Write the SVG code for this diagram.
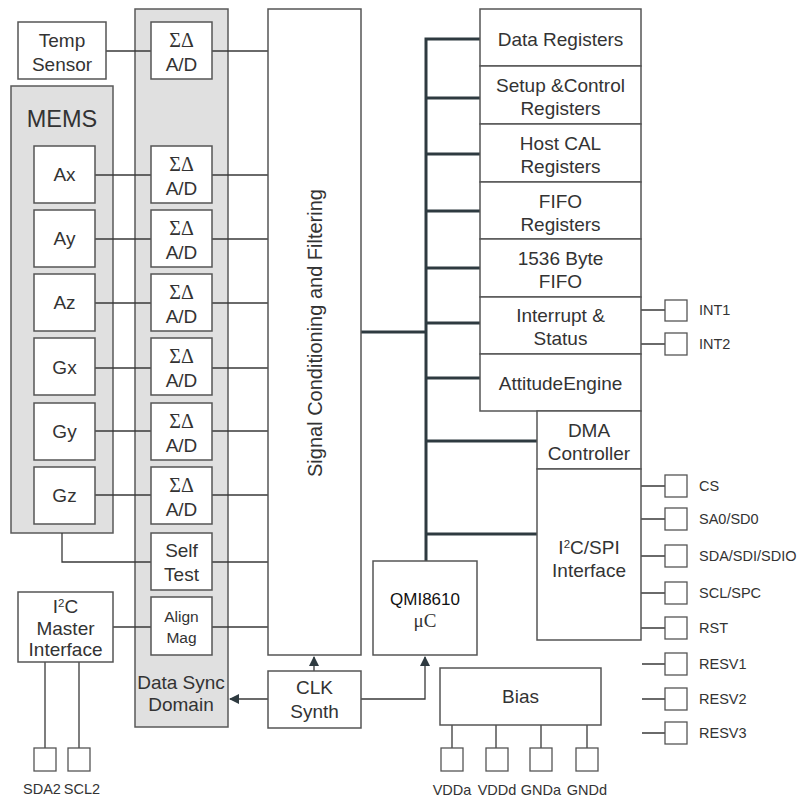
<svg xmlns="http://www.w3.org/2000/svg" width="800" height="798" viewBox="0 0 800 798">
<style>
.box{fill:#fff;stroke:#555;stroke-width:1.5}
.gray{fill:#e0e0e0;stroke:#5a5a5a;stroke-width:1.5}
.pin{fill:#fff;stroke:#555;stroke-width:1.3}
.ln{stroke:#3a3a3a;stroke-width:1.3;fill:none}
.bus{stroke:#2e3a40;stroke-width:3;fill:none}
text{font-family:"Liberation Sans",Arial,sans-serif;fill:#333;text-anchor:middle}
.t{font-size:19px}
.s{font-size:15.5px}
.sd{font-family:"Liberation Serif","Times New Roman",serif;font-size:20px}
.p{font-size:14.5px;text-anchor:start}
.pc{font-size:14.5px}
</style>
<defs>
<marker id="arr" markerWidth="10" markerHeight="10" refX="9" refY="5" orient="auto" markerUnits="userSpaceOnUse">
<path d="M0,0 L10,5 L0,10 z" fill="#2e3a40"/>
</marker>
</defs>

<g id="data-sync-domain">
<rect class="gray" x="135" y="9" width="93" height="718"/>
<text class="t" x="181" y="689">Data Sync</text>
<text class="t" x="181" y="711">Domain</text>
</g>
<g id="mems">
<rect class="gray" x="11" y="86" width="102" height="447"/>
<text x="62" y="127" style="font-size:23.5px">MEMS</text>
</g>

<g id="connectors">
<path class="ln" d="M106,51H151 M95,175H151 M95,239H151 M95,303H151 M95,368H151 M95,431H151 M95,495H151"/>
<path class="ln" d="M62,533V562H151"/>
<path class="ln" d="M113,627H151"/>
<path class="ln" d="M212,51H268 M212,175H268 M212,239H268 M212,303H268 M212,368H268 M212,431H268 M212,495H268 M212,562H268 M212,627H268"/>
<path class="ln" d="M45,662V748 M79,662V748"/>
<path class="ln" d="M314,671V657" marker-end="url(#arr)"/>
<path class="ln" d="M268,699H230" marker-end="url(#arr)"/>
<path class="ln" d="M361,699H425V657" marker-end="url(#arr)"/>
<path class="bus" d="M426,561V39H480 M426,98H480 M426,154H480 M426,211H480 M426,268H480 M426,323H480 M426,378H480 M426,441H537 M426,534H537 M361,332H426"/>
<path class="ln" d="M641,310H665 M641,344H665 M641,486H665 M641,519H665 M641,556H665 M641,593H665 M641,628H665 M642,664H665 M642,699H665 M642,733H665"/>
<path class="ln" d="M452,725V748 M496,725V748 M541,725V748 M587,725V748"/>
</g>

<g id="temp-sensor"><rect class="box" x="18" y="22" width="88" height="57"/><text class="t" x="62" y="47">Temp</text><text class="t" x="62" y="71">Sensor</text></g>

<g id="ax"><rect class="box" x="34" y="146" width="61" height="57"/><text class="t" x="64.5" y="181">Ax</text></g>
<g id="ay"><rect class="box" x="34" y="210" width="61" height="57"/><text class="t" x="64.5" y="245">Ay</text></g>
<g id="az"><rect class="box" x="34" y="274" width="61" height="57"/><text class="t" x="64.5" y="309">Az</text></g>
<g id="gx"><rect class="box" x="34" y="338" width="61" height="57"/><text class="t" x="64.5" y="374">Gx</text></g>
<g id="gy"><rect class="box" x="34" y="403" width="61" height="57"/><text class="t" x="64.5" y="438">Gy</text></g>
<g id="gz"><rect class="box" x="34" y="467" width="61" height="57"/><text class="t" x="64.5" y="502">Gz</text></g>

<g id="adc-temp"><rect class="box" x="151" y="22" width="61" height="57"/><text class="sd" x="181.5" y="47">ΣΔ</text><text class="t" x="181.5" y="71">A/D</text></g>
<g id="adc-ax"><rect class="box" x="151" y="146" width="61" height="57"/><text class="sd" x="181.5" y="171">ΣΔ</text><text class="t" x="181.5" y="195">A/D</text></g>
<g id="adc-ay"><rect class="box" x="151" y="210" width="61" height="57"/><text class="sd" x="181.5" y="235">ΣΔ</text><text class="t" x="181.5" y="259">A/D</text></g>
<g id="adc-az"><rect class="box" x="151" y="274" width="61" height="57"/><text class="sd" x="181.5" y="299">ΣΔ</text><text class="t" x="181.5" y="323">A/D</text></g>
<g id="adc-gx"><rect class="box" x="151" y="338" width="61" height="57"/><text class="sd" x="181.5" y="363">ΣΔ</text><text class="t" x="181.5" y="387">A/D</text></g>
<g id="adc-gy"><rect class="box" x="151" y="403" width="61" height="57"/><text class="sd" x="181.5" y="428">ΣΔ</text><text class="t" x="181.5" y="452">A/D</text></g>
<g id="adc-gz"><rect class="box" x="151" y="467" width="61" height="57"/><text class="sd" x="181.5" y="492">ΣΔ</text><text class="t" x="181.5" y="516">A/D</text></g>
<g id="self-test"><rect class="box" x="151" y="533" width="61" height="57"/><text class="t" x="181.5" y="557">Self</text><text class="t" x="181.5" y="581">Test</text></g>
<g id="align-mag"><rect class="box" x="151" y="597" width="61" height="58"/><text class="s" x="181.5" y="622">Align</text><text class="s" x="181.5" y="643">Mag</text></g>

<g id="i2c-master"><rect class="box" x="18" y="592" width="95" height="70"/>
<text class="t" x="65.5" y="613">I<tspan font-size="11.5" dy="-6">2</tspan><tspan dy="6">C</tspan></text>
<text class="t" x="65.5" y="635">Master</text><text class="t" x="65.5" y="656">Interface</text></g>

<g id="pin-sda2"><rect class="pin" x="34" y="748" width="22" height="23"/><text class="pc" x="42" y="794">SDA2</text></g>
<g id="pin-scl2"><rect class="pin" x="68" y="748" width="22" height="23"/><text class="pc" x="82" y="794">SCL2</text></g>

<g id="signal-conditioning"><rect class="box" x="268" y="9" width="93" height="646"/>
<text transform="translate(321.5,333) rotate(-90)" style="font-size:20px">Signal Conditioning and Filtering</text></g>

<g id="clk-synth"><rect class="box" x="268" y="671" width="93" height="57"/><text class="t" x="314.5" y="694">CLK</text><text class="t" x="314.5" y="718">Synth</text></g>

<g id="qmi"><rect class="box" x="373" y="561" width="104" height="94"/>
<text x="425" y="605" style="font-size:17px;fill:#111">QMI8610</text>
<text x="425" y="627" style="font-size:19px;font-family:'Liberation Serif',serif">μC</text></g>

<g id="data-registers"><rect class="box" x="480" y="9" width="161" height="57"/><text class="t" x="560.5" y="46">Data Registers</text></g>
<g id="setup-control"><rect class="box" x="480" y="66" width="161" height="58"/><text class="t" x="560.5" y="92">Setup &amp;Control</text><text class="t" x="560.5" y="115">Registers</text></g>
<g id="host-cal"><rect class="box" x="480" y="124" width="161" height="58"/><text class="t" x="560.5" y="150">Host CAL</text><text class="t" x="560.5" y="173">Registers</text></g>
<g id="fifo-registers"><rect class="box" x="480" y="182" width="161" height="57"/><text class="t" x="560.5" y="208">FIFO</text><text class="t" x="560.5" y="231">Registers</text></g>
<g id="fifo"><rect class="box" x="480" y="239" width="161" height="58"/><text class="t" x="560.5" y="265">1536 Byte</text><text class="t" x="560.5" y="288">FIFO</text></g>
<g id="interrupt-status"><rect class="box" x="480" y="297" width="161" height="57"/><text class="t" x="560.5" y="322">Interrupt &amp;</text><text class="t" x="560.5" y="345">Status</text></g>
<g id="attitude-engine"><rect class="box" x="480" y="354" width="161" height="57"/><text class="t" x="560.5" y="390">AttitudeEngine</text></g>
<g id="dma"><rect class="box" x="537" y="411" width="104" height="58"/><text class="t" x="589" y="437">DMA</text><text class="t" x="589" y="460">Controller</text></g>
<g id="i2c-spi"><rect class="box" x="537" y="469" width="104" height="171"/>
<text class="t" x="589" y="554">I<tspan font-size="11.5" dy="-6">2</tspan><tspan dy="6">C/SPI</tspan></text>
<text class="t" x="589" y="577">Interface</text></g>

<g id="pin-int1"><rect class="pin" x="665" y="300" width="22" height="21"/><text class="p" x="699" y="315">INT1</text></g>
<g id="pin-int2"><rect class="pin" x="665" y="333" width="22" height="22"/><text class="p" x="699" y="349">INT2</text></g>
<g id="pin-cs"><rect class="pin" x="665" y="475" width="22" height="22"/><text class="p" x="699" y="491">CS</text></g>
<g id="pin-sa0"><rect class="pin" x="665" y="508" width="22" height="22"/><text class="p" x="699" y="524">SA0/SD0</text></g>
<g id="pin-sda"><rect class="pin" x="665" y="545" width="22" height="22"/><text class="p" x="699" y="561">SDA/SDI/SDIO</text></g>
<g id="pin-scl"><rect class="pin" x="665" y="582" width="22" height="22"/><text class="p" x="699" y="598">SCL/SPC</text></g>
<g id="pin-rst"><rect class="pin" x="665" y="617" width="22" height="22"/><text class="p" x="699" y="633">RST</text></g>
<g id="pin-resv1"><rect class="pin" x="665" y="653" width="22" height="22"/><text class="p" x="699" y="669">RESV1</text></g>
<g id="pin-resv2"><rect class="pin" x="665" y="688" width="22" height="22"/><text class="p" x="699" y="704">RESV2</text></g>
<g id="pin-resv3"><rect class="pin" x="665" y="722" width="22" height="22"/><text class="p" x="699" y="738">RESV3</text></g>

<g id="bias"><rect class="box" x="440" y="668" width="161" height="57"/><text class="t" x="520.5" y="703">Bias</text></g>
<g id="pin-vdda"><rect class="pin" x="441" y="748" width="22" height="23"/><text class="pc" x="452" y="795">VDDa</text></g>
<g id="pin-vddd"><rect class="pin" x="486" y="748" width="22" height="23"/><text class="pc" x="497" y="795">VDDd</text></g>
<g id="pin-gnda"><rect class="pin" x="530" y="748" width="22" height="23"/><text class="pc" x="541" y="795">GNDa</text></g>
<g id="pin-gndd"><rect class="pin" x="576" y="748" width="22" height="23"/><text class="pc" x="587" y="795">GNDd</text></g>
</svg>
